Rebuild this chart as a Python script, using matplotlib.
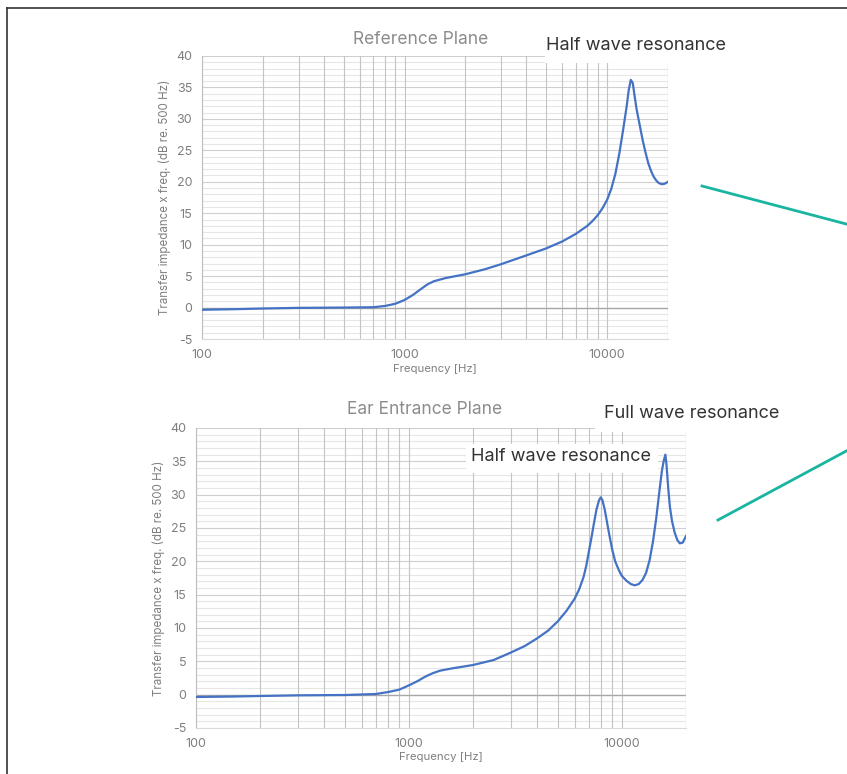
import matplotlib
matplotlib.use("Agg")
import matplotlib.pyplot as plt
from matplotlib.lines import Line2D
from matplotlib.patches import Rectangle

plt.rcParams['font.family'] = ['Inter', 'DejaVu Sans']

# ---------------- data ----------------
ref_freq = [100, 150, 200, 300, 500, 700, 800, 900, 1000, 1100, 1200, 1300, 1400,
            1600, 2000, 2500, 3000, 4000, 5000, 6000, 7000, 8000, 8500, 9000, 9500,
            10000, 10500, 11000, 11500, 12000, 12500, 12800, 13100, 13400, 13700,
            14000, 14500, 15000, 15500, 16000, 16500, 17000, 17500, 18000, 18700,
            19300, 20000]
ref_val = [-0.35, -0.25, -0.15, -0.05, 0.0, 0.05, 0.25, 0.6, 1.2, 2.0, 2.9, 3.7, 4.2,
           4.7, 5.3, 6.1, 6.9, 8.3, 9.4, 10.5, 11.7, 13.0, 13.8, 14.7, 15.8,
           17.1, 18.9, 21.3, 24.5, 28.2, 32.0, 34.6, 36.2, 35.7, 33.5,
           31.5, 29.0, 26.6, 24.6, 22.9, 21.7, 20.8, 20.2, 19.8, 19.6,
           19.7, 20.0]

ear_freq = [100, 150, 200, 300, 500, 700, 800, 900, 1000, 1100, 1200, 1300, 1400,
            1600, 2000, 2500, 3000, 3500, 4000, 4500, 5000, 5500, 6000, 6300, 6600,
            6800, 7000, 7200, 7400, 7600, 7800, 7950, 8100, 8300, 8500, 8700, 9000,
            9300, 9700, 10000, 10500, 11000, 11500, 12000, 12500, 13000, 13500,
            14000, 14500, 15000, 15400, 15700, 16000, 16200, 16500, 16800, 17200,
            17700, 18200, 18700, 19300, 20000]
ear_val = [-0.35, -0.28, -0.2, -0.1, -0.05, 0.1, 0.4, 0.75, 1.4, 2.05, 2.75, 3.25, 3.6,
           3.95, 4.45, 5.2, 6.3, 7.3, 8.45, 9.6, 11.0, 12.6, 14.4, 15.8, 17.6,
           19.3, 21.5, 23.6, 25.8, 27.8, 29.1, 29.6, 29.2, 27.8, 26.0, 24.2, 21.8,
           20.0, 18.6, 17.8, 17.1, 16.6, 16.4, 16.6, 17.2, 18.3, 20.2,
           23.0, 26.5, 30.5, 33.5, 35.0, 36.0, 34.5, 31.0, 28.2, 26.0,
           24.3, 23.2, 22.7, 22.8, 23.8]

x_ticks = [100, 1000, 10000]
x_tick_labels = ["100", "1000", "10000"]
y_ticks = [-5, 0, 5, 10, 15, 20, 25, 30, 35, 40]

W, H = 847, 774
fig = plt.figure(figsize=(W / 100, H / 100), dpi=100)

LINE_COLOR = '#4472C4'
TICK_COLOR = '#7f7f7f'
TEAL = '#19b5a0'


def style_axes(ax):
    ax.set_xscale('log')
    ax.set_xlim(100, 20000)
    ax.set_ylim(-5, 40)
    for v in range(-5, 41):
        if v % 5 == 0:
            continue
        ax.axhline(v, color='#e6e6e6', lw=0.8, zorder=0)
    for v in y_ticks:
        if v in (-5, 0):
            continue
        ax.axhline(v, color='#cfcfcf', lw=0.8, zorder=0.5)
    for dec in [100, 1000, 10000]:
        for m in range(1, 10):
            f = dec * m
            if 100 <= f <= 20000:
                ax.axvline(f, color='#c4c4c4', lw=0.8, zorder=0.5)
    ax.axvline(20000, color='#c4c4c4', lw=0.8, zorder=0.5)
    ax.axhline(0, color='#a6a6a6', lw=1.0, zorder=1)
    for s in ['top', 'right']:
        ax.spines[s].set_visible(False)
    ax.spines['left'].set_color('#bfbfbf')
    ax.spines['bottom'].set_color('#d9d9d9')
    ax.set_xticks(x_ticks)
    ax.set_xticklabels(x_tick_labels)
    ax.xaxis.set_minor_locator(matplotlib.ticker.NullLocator())
    ax.set_yticks(y_ticks)
    ax.set_yticklabels([str(v) for v in y_ticks])
    ax.tick_params(axis='both', length=0, labelsize=9, colors=TICK_COLOR, pad=7)
    ax.set_xlabel('Frequency [Hz]', fontsize=8.2, color=TICK_COLOR, labelpad=2)
    ax.set_ylabel('Transfer impedance x freq. (dB re. 500 Hz)', fontsize=8.3,
                  color=TICK_COLOR, labelpad=4)


def fig_rect(x0, y0, x1, y1):
    return Rectangle((x0 / W, 1 - y1 / H), (x1 - x0) / W, (y1 - y0) / H,
                     transform=fig.transFigure, facecolor='white', edgecolor='none',
                     zorder=5)


# top axes
ax1 = fig.add_axes([202 / W, 1 - 339 / H, (668 - 202) / W, (339 - 56) / H])
style_axes(ax1)
ax1.plot(ref_freq, ref_val, color=LINE_COLOR, lw=1.6, zorder=3)
fig.text(421 / W, 1 - 39 / H, 'Reference Plane', fontsize=12.5, color='#8c8c8c',
         ha='center', va='center')

# bottom axes
ax2 = fig.add_axes([196 / W, 1 - 728 / H, (686 - 196) / W, (728 - 428) / H])
style_axes(ax2)
ax2.plot(ear_freq, ear_val, color=LINE_COLOR, lw=1.6, zorder=3)
fig.text(425 / W, 1 - 409 / H, 'Ear Entrance Plane', fontsize=12.5, color='#8c8c8c',
         ha='center', va='center')

# annotation boxes (white) and text
fig.patches.append(fig_rect(545, 30, 730, 63))
fig.text(546 / W, 1 - 45 / H, 'Half wave resonance', fontsize=13, color='#333333',
         va='center', ha='left', zorder=6)

fig.patches.append(fig_rect(595, 400, 790, 432))
fig.text(604 / W, 1 - 413 / H, 'Full wave resonance', fontsize=13, color='#333333',
         va='center', ha='left', zorder=6)

fig.patches.append(fig_rect(466, 444, 658, 473))
fig.text(471 / W, 1 - 456 / H, 'Half wave resonance', fontsize=13, color='#333333',
         va='center', ha='left', zorder=6)

# teal pointer lines
fig.add_artist(Line2D([702 / W, 850 / W], [1 - 186 / H, 1 - 225 / H],
                      transform=fig.transFigure, color=TEAL, lw=2.0))
fig.add_artist(Line2D([718 / W, 850 / W], [1 - 520 / H, 1 - 449 / H],
                      transform=fig.transFigure, color=TEAL, lw=2.0))

# frame lines (top and left)
fig.add_artist(Line2D([7 / W, 1.0], [1 - 8 / H, 1 - 8 / H], transform=fig.transFigure,
                      color='#333333', lw=1.2))
fig.add_artist(Line2D([7 / W, 7 / W], [0, 1 - 8 / H], transform=fig.transFigure,
                      color='#333333', lw=1.2))

fig.savefig('out.png', dpi=100)
